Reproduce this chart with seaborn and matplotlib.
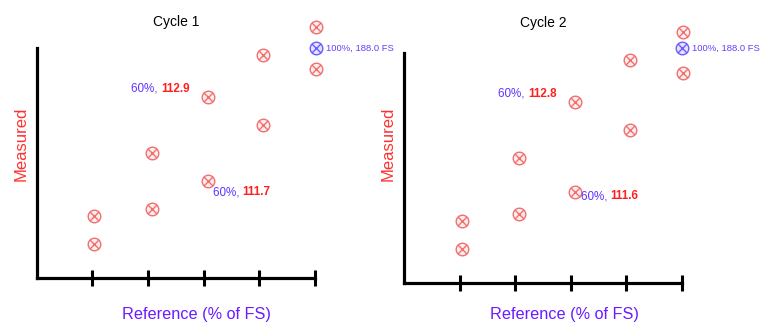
import numpy as np
import pandas as pd
import matplotlib
matplotlib.use("Agg")
import matplotlib.pyplot as plt
from matplotlib.path import Path
import seaborn as sns

sns.set_theme(style="white")
plt.rcParams['font.family'] = ['Liberation Sans', 'DejaVu Sans']

# ---- data ----
titles = ["Cycle 1", "Cycle 2"]
ref_pct = [20.7, 20.7, 41.4, 41.4, 61.4, 61.4, 81.4, 81.4, 100.3, 100.3]
measured_c1 = [53.9, 29.6, 108.7, 60.0, 157.4, 84.3, 193.9, 133.0, 218.3, 181.7]
measured_c2 = [53.9, 29.6, 108.7, 60.0, 157.4, 79.1, 193.9, 133.0, 218.3, 182.6]
hl_ref = [100.3, 100.0]
hl_meas = [200.0, 204.3]
upper_60 = [157.4, 157.4]
lower_60 = [84.3, 79.1]
upper_lbl = ["112.9", "112.8"]
lower_lbl = ["111.7", "111.6"]
hl_text = "100%, 188.0 FS"
ticks = [20, 40, 60, 80, 100]

RED_E, RED_F = "#f07070", "#fdeeee"
BLU_E, BLU_F = "#6a5cff", "#e6e3ff"
VIOLET = "#5f33ff"
RED_T = "#ff1f1f"

# circle with an x inside
c = Path.unit_circle()
d = 0.707
xpath = Path([(-d, -d), (d, d), (-d, d), (d, -d)],
             [Path.MOVETO, Path.LINETO, Path.MOVETO, Path.LINETO])
cross_circle = Path.make_compound_path(c, xpath)

fig = plt.figure(figsize=(7.68, 3.33), dpi=100)
W, H = 768, 333
rects = [(36.7, 48, 315, 278), (404, 53, 682, 283)]
measured = [measured_c1, measured_c2]
low_off = [(5, -11), (6, -4)]

for i in range(2):
    x0, y0, x1, y1 = rects[i]
    ax = fig.add_axes([x0 / W, (H - y1) / H, (x1 - x0) / W, (y1 - y0) / H])
    ax.set_xlim(0, 100)
    ax.set_ylim(0, 200)
    df = pd.DataFrame({"ref": ref_pct, "meas": measured[i]})
    sns.scatterplot(data=df, x="ref", y="meas", marker=cross_circle, s=82,
                    color=RED_E, edgecolor=RED_E, linewidth=1.0, ax=ax,
                    clip_on=False, zorder=3, legend=False)
    hdf = pd.DataFrame({"ref": [hl_ref[i]], "meas": [hl_meas[i]]})
    sns.scatterplot(data=hdf, x="ref", y="meas", marker=cross_circle, s=82,
                    color=BLU_E, edgecolor=BLU_E, linewidth=1.0, ax=ax,
                    clip_on=False, zorder=3, legend=False)
    colls = ax.collections
    colls[0].set_facecolor(RED_F)
    colls[0].set_edgecolor(RED_E)
    colls[1].set_facecolor(BLU_F)
    colls[1].set_edgecolor(BLU_E)

    for s in ["top", "right"]:
        ax.spines[s].set_visible(False)
    for s in ["left", "bottom"]:
        ax.spines[s].set_color("black")
        ax.spines[s].set_linewidth(2.3)
    ax.set_xticks(ticks)
    ax.set_xticklabels([])
    ax.set_yticks([])
    ax.tick_params(axis="x", direction="inout", length=12, width=2.2,
                   color="black", bottom=True)
    ax.set_xlabel("")
    ax.set_ylabel("")

    # upper 60% label (to upper-left of point)
    num = ax.annotate(upper_lbl[i], xy=(ref_pct[4], upper_60[i]), xytext=(-18, 8),
                      textcoords="offset pixels", ha="right", va="center",
                      fontsize=8.4, fontweight="bold", color=RED_T,
                      annotation_clip=False)
    ax.annotate("60%, ", xy=(0, 0), xycoords=num, ha="right", va="bottom",
                fontsize=8.4, color=VIOLET, annotation_clip=False)
    # lower 60% label (to lower-right of point)
    pre = ax.annotate("60%, ", xy=(ref_pct[5], lower_60[i]), xytext=low_off[i],
                      textcoords="offset pixels", ha="left", va="center",
                      fontsize=8.4, color=VIOLET, annotation_clip=False)
    ax.annotate(lower_lbl[i], xy=(1, 0), xycoords=pre, ha="left", va="bottom",
                fontsize=8.4, fontweight="bold", color=RED_T,
                annotation_clip=False)
    # 100% label
    ax.annotate(hl_text, xy=(hl_ref[i], hl_meas[i]), xytext=(10, 0),
                textcoords="offset pixels", ha="left", va="center",
                fontsize=6.8, color="#6a3cff", annotation_clip=False)

    cx = (x0 + x1) / 2
    fig.text(cx / W, 1 - (22 + i) / H, titles[i], ha="center", va="center",
             fontsize=10, color="black")
    fig.text((cx + 21) / W, 1 - 315 / H, "Reference (% of FS)", ha="center",
             va="center", fontsize=11.7, color="#6a1bff")
    fig.text((x0 - 16) / W, 1 - 144 / H, "Measured", ha="center", va="center",
             rotation=90, fontsize=12, color="#ff3030")

fig.savefig("out.png", dpi=100)
